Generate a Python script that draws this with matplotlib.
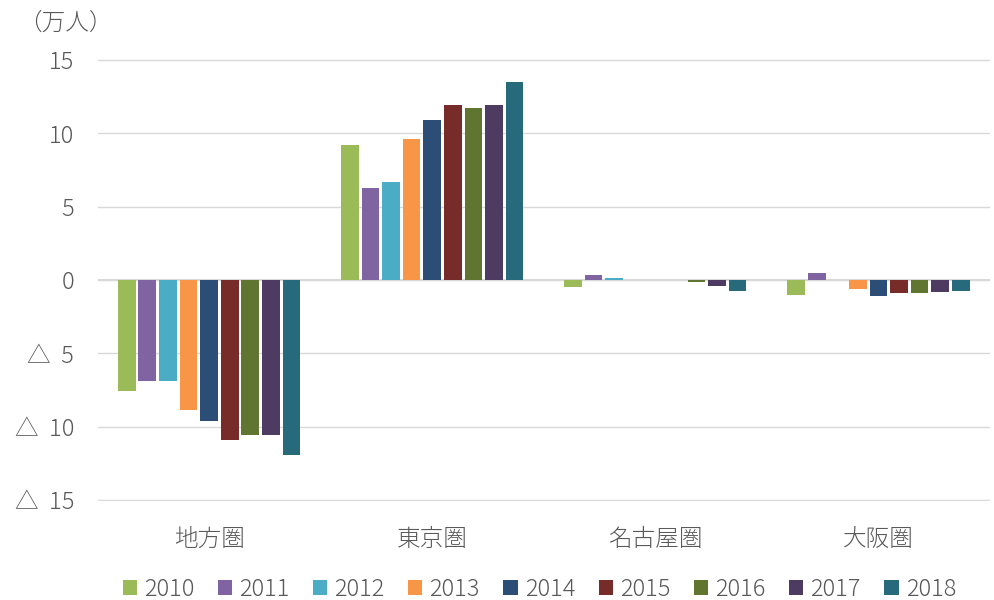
import matplotlib
matplotlib.use("Agg")
import matplotlib.pyplot as plt
import numpy as np
from matplotlib.ticker import FixedLocator

plt.rcParams['font.family'] = ['Noto Sans CJK JP', 'DejaVu Sans']

categories = ['地方圏', '東京圏', '名古屋圏', '大阪圏']
years = ['2010', '2011', '2012', '2013', '2014', '2015', '2016', '2017', '2018']
values = {
    '2010': [-7.6, 9.2, -0.5, -1.0],
    '2011': [-6.9, 6.3, 0.35, 0.45],
    '2012': [-6.9, 6.7, 0.1, 0.0],
    '2013': [-8.9, 9.6, 0.0, -0.65],
    '2014': [-9.6, 10.9, 0.0, -1.1],
    '2015': [-10.9, 11.95, 0.0, -0.9],
    '2016': [-10.6, 11.75, -0.15, -0.9],
    '2017': [-10.6, 11.95, -0.45, -0.85],
    '2018': [-11.95, 13.5, -0.75, -0.75],
}
colors = ['#9BBB59', '#8064A2', '#4BACC6', '#F79646', '#2C4D75',
          '#772C2A', '#5F7530', '#4D3B62', '#276A7C']
yticks = [-15, -10, -5, 0, 5, 10, 15]
ytick_labels = ['△  15', '△  10', '△  5', '0', '5', '10', '15']

fig = plt.figure(figsize=(9.95, 6), dpi=100)
ax = fig.add_axes([0.098, 0.165, 0.897, 0.737])

x = np.arange(len(categories))
n = len(years)
slot = 0.83 / n
barw = slot * 0.86
for i, (yr, c) in enumerate(zip(years, colors)):
    offs = (i - (n - 1) / 2) * slot
    ax.bar(x + offs, values[yr], width=barw, color=c, label=yr, zorder=3)

ax.set_xlim(-0.5, len(categories) - 0.5)
ax.set_ylim(-15.08, 15.08)
ax.yaxis.set_major_locator(FixedLocator(yticks))
ax.set_yticklabels(ytick_labels, fontsize=17, fontweight='light')
ax.set_xticks(x)
ax.set_xticklabels(categories, fontsize=17, fontweight='light')
ax.grid(axis='y', color='#D9D9D9', linewidth=1, zorder=0)
ax.axhline(0, color='#D9D9D9', linewidth=1.5, zorder=2)
for s in ax.spines.values():
    s.set_visible(False)
ax.tick_params(axis='both', length=0, colors='#595959')
ax.tick_params(axis='x', pad=19)
ax.tick_params(axis='y', pad=17)

fig.text(0.018, 0.962, '（万人）', fontsize=17, fontweight='light', color='#595959', va='center')

leg = fig.legend(loc='center', ncol=n, bbox_to_anchor=(0.542, 0.018),
                 frameon=False, handlelength=0.6, handleheight=0.6,
                 handletextpad=0.3, columnspacing=1.0, labelcolor='#595959',
                 prop={'size': 17, 'weight': 'light'})

fig.savefig('out.png', dpi=100)
